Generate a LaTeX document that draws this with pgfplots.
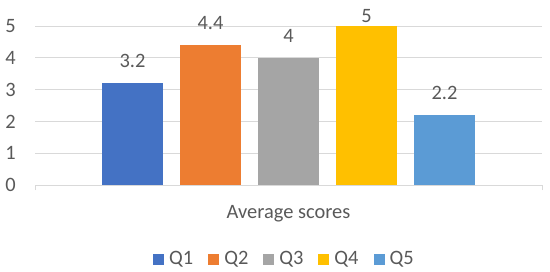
\documentclass[border=0pt]{standalone}
\usepackage{pgfplots}
\pgfplotsset{compat=1.18}
\usepackage{fontspec}
\setmainfont{Carlito}
\definecolor{cQ1}{HTML}{4472C4}
\definecolor{cQ2}{HTML}{ED7D31}
\definecolor{cQ3}{HTML}{A5A5A5}
\definecolor{cQ4}{HTML}{FFC000}
\definecolor{cQ5}{HTML}{5B9BD5}
\definecolor{txtgray}{HTML}{595959}
\definecolor{gridgray}{HTML}{D9D9D9}
\begin{document}
\begin{tikzpicture}
\path[use as bounding box] (0bp,0bp) rectangle (550bp,272bp);
\begin{axis}[
  at={(35bp,87bp)}, anchor=south west,
  scale only axis, width=507bp, height=159bp,
  xmin=-0.5, xmax=0.5, ymin=0, ymax=5,
  clip=false,
  /pgf/number format/assume math mode=true,
  ybar=16.5bp, bar width=61.5bp,
  axis x line*=bottom, axis y line*=left,
  x axis line style={draw=gridgray, line width=0.8bp, -},
  y axis line style={draw=none},
  xtick={-0.5,0.5}, xticklabels={},
  x tick style={draw=gridgray, line width=0.8bp},
  xtick align=outside, major tick length=5bp,
  ytick={0,1,2,3,4,5},
  y tick style={draw=none},
  ymajorgrids, grid style={draw=gridgray, line width=0.8bp},
  font=\fontsize{20.5}{24}\selectfont,
  yticklabel style={text=txtgray, inner sep=0pt, anchor=east, xshift=-19bp},
  xlabel={Average scores},
  xlabel style={text=txtgray, at={(axis description cs:0.5,0)}, anchor=base, yshift=-33.3bp},
  nodes near coords,
  nodes near coords style={text=txtgray, inner sep=0pt, anchor=south, yshift=15bp},
  legend columns=5,
  legend style={draw=none, fill=none, at={(axis description cs:0.490,-0.464)}, anchor=center,
    inner sep=0pt, column sep=0pt, text=txtgray,
    nodes={inner sep=0pt, anchor=base west},
    /tikz/every odd column/.append style={column sep=5bp},
    /tikz/every even column/.append style={column sep=15bp}},
  legend image code/.code={\fill[#1] (0bp,0bp) rectangle (11bp,11bp);},
]
\addplot[fill=cQ1, draw=none] coordinates {(0,3.2)};
\addplot[fill=cQ2, draw=none] coordinates {(0,4.4)};
\addplot[fill=cQ3, draw=none] coordinates {(0,4)};
\addplot[fill=cQ4, draw=none, nodes near coords style={yshift=-12.3bp}] coordinates {(0,5)};
\addplot[fill=cQ5, draw=none] coordinates {(0,2.2)};
\legend{Q1,Q2,Q3,Q4,Q5}
\end{axis}
\end{tikzpicture}
\end{document}
